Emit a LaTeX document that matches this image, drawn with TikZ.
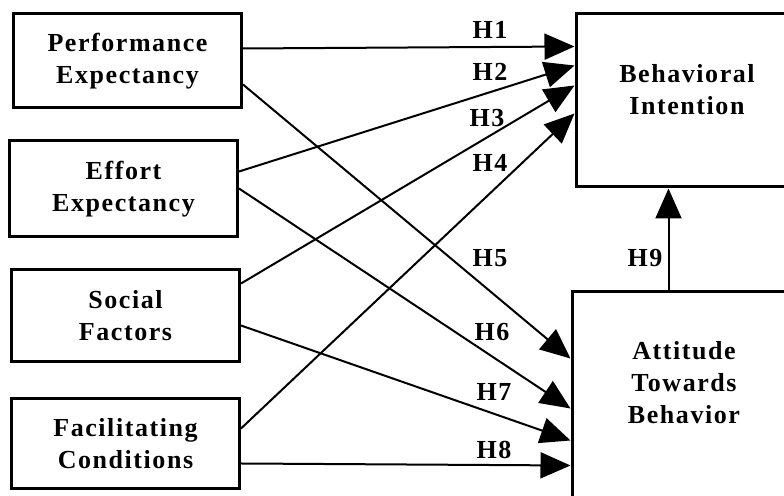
\documentclass[tikz,border=0pt]{standalone}
\usepackage{fontspec}
\setmainfont{Liberation Serif}[LetterSpace=6]
\usetikzlibrary{arrows.meta,positioning,calc}

\begin{document}
\begin{tikzpicture}[x=0.5pt,y=-0.5pt,>={Triangle[length=15pt,width=13pt]},
    every node/.style={font=\bfseries\fontsize{13}{16}\selectfont}]
  \tikzstyle{boxL}=[draw,line width=1.5pt,minimum width=114pt,align=center,inner sep=0pt]
  \tikzstyle{boxR}=[draw,line width=1.5pt,inner sep=0pt]
  \tikzstyle{hyp}=[line width=1pt,->]
  \useasboundingbox (0,0) rectangle (784,496);
  \clip (0,0) rectangle (784,496);

  % Constructs
  \node[boxL, minimum height=47pt] (pe) at (127.5,61) {Performance\\Expectancy};
  \node[boxL, minimum height=48pt] (ee) at (123.5,189) {Effort\\Expectancy};
  \node[boxL, minimum height=46pt] (sf) at (125.5,316) {Social\\Factors};
  \node[boxL, minimum height=45pt] (fc) at (125.5,444) {Facilitating\\Conditions};
  \node[boxR, minimum width=112pt, minimum height=86.5pt] (bi) at (688,100.5) {};
  \node[boxR, minimum width=114pt, minimum height=114pt] (at) at (686,406) {};
  \node[align=center] (bitxt) at (687,90) {Behavioral\\Intention};
  \node[align=center] (attxt) at (684,383) {Attitude\\Towards\\Behavior};

  % Hypotheses
  \draw[hyp] ($(pe.north east)+(0,36)$) -- ($(bi.north west)+(0,34)$);
  \draw[hyp] ($(ee.north east)+(0,32)$) -- ($(bi.north west)+(0,53)$);
  \draw[hyp] ($(sf.north east)+(0,15)$) -- ($(bi.north west)+(0,73)$);
  \draw[hyp] ($(fc.north east)+(0,31)$) -- ($(bi.north west)+(0,101)$);
  \draw[hyp] ($(pe.north east)+(0,72)$) -- ($(at.north west)+(0,68)$);
  \draw[hyp] ($(ee.north east)+(0,49)$) -- ($(at.north west)+(0,118)$);
  \draw[hyp] ($(sf.north east)+(0,57)$) -- ($(at.north west)+(0,150)$);
  \draw[hyp] ($(fc.north east)+(0,66)$) -- ($(at.north west)+(0,175)$);
  \draw[hyp] ($(at.north west)+(98,0)$) coordinate (h9s) -- (h9s |- bi.south);

  % Labels
  \node (h1) at (490,30) {H1};
  \node (h2) at (490,72) {H2};
  \node (h3) at (487,118) {H3};
  \node (h4) at (490,163) {H4};
  \node (h5) at (490,258) {H5};
  \node (h6) at (492,332) {H6};
  \node (h7) at (494,392) {H7};
  \node (h8) at (494,450) {H8};
  \node (h9) at (645,258) {H9};
\end{tikzpicture}
\end{document}
